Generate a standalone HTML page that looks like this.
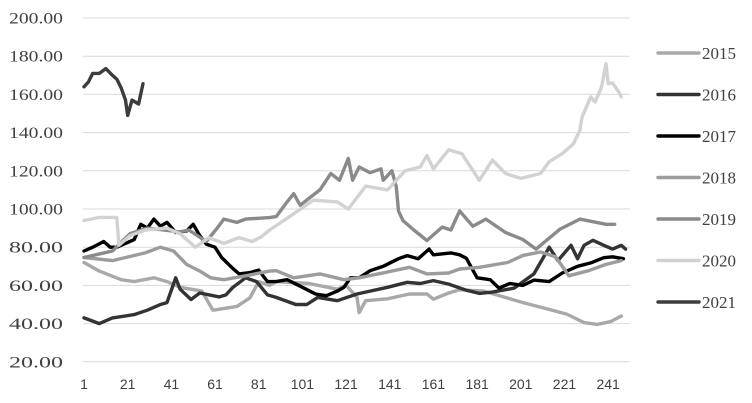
<!DOCTYPE html>
<html><head><meta charset="utf-8"><style>
html,body{margin:0;padding:0;background:#fff;}
svg{display:block;}
.yl{font-family:"Liberation Serif",serif;font-size:16px;fill:#404040;}
.xl{font-family:"Liberation Sans",sans-serif;font-size:14px;fill:#404040;}
.lg{font-family:"Liberation Serif",serif;font-size:17px;fill:#404040;}
</style></head><body>
<svg id="chart" width="752" height="403" viewBox="0 0 752 403" xmlns="http://www.w3.org/2000/svg">
<g id="grid"></g>
<g id="yaxis"></g>
<g id="xaxis"></g>
<g id="series"></g>
<g id="legend"></g>
</svg>
<script>
const yTicks = [200,180,160,140,120,100,80,60,40,20];
const xTicks = [1,21,41,61,81,101,121,141,161,181,201,221,241];
const seriesNames = ["2015","2016","2017","2018","2019","2020","2021"];
const seriesColors = ["#a9a9a9","#333333","#000000","#9c9c9c","#8a8a8a","#d2d2d2","#3c3c3c"];

const d2015 = [1,8,18,24,33,39,45,55,60,71,77,81,86,89,104,117,121,126,127,130,140,150,158,161,168,173,184,202,213,222,230,236,242,247];
const v2015 = [72,67.5,63,62,64,62,59,57,47,49,53.5,62,60,62,61,58,60,53.7,45.8,52,53,55.5,55.5,52.8,56,57.7,57,51,47.7,45,40.5,39.6,41,44];
const d2016 = [1,8,14,24,30,36,39,43,45,50,54,63,66,69,75,80,85,89,98,103,108,117,126,132,140,149,155,161,168,176,182,188,198,207,210,214,218,221,224,227,230,234,239,243,247,249];
const v2016 = [43,40,43,44.7,47,50,51,64,58,52.6,56,54,55,58.8,64,62,55,53.7,50,50,53.7,52,55.5,57,59,61.6,61,62.5,60.7,57.5,55.8,56.5,58.6,66,72,80,73,77,81,74,81,83.6,81,79,81,79];
const d2017 = [1,5,10,13,16,24,27,30,33,36,39,43,48,51,54,57,61,64,69,72,77,81,85,89,94,101,107,112,117,120,123,127,132,138,145,149,154,159,161,169,173,176,181,187,191,196,202,207,214,220,227,233,239,243,248];
const v2017 = [78,80,83,80,80,84,92,90,94.7,91,93,87.7,88.5,92,86,81.6,80,74.6,69,66,66.7,68,62,62,63,59,55.5,54.6,57,59,64,64,67.7,70,74,75.6,74,79,76,77,76,74.3,64,63,58.6,61,60,62.8,62,66.5,70,71.8,74.5,75,74];
const d2018 = [1,14,29,36,42,48,54,59,65,75,86,89,97,109,120,127,140,150,158,168,173,182,195,202,210,217,223,232,240,247];
const v2018 = [74.6,73,77,80,78,71,67.5,64,63,65,67.5,67.7,64,66,63,64,67,69.5,66,66.5,68.6,69.5,72,75.7,77.5,75,65,67.7,71,73];
const d2019 = [1,14,22,30,45,49,57,62,65,71,75,86,89,94,97,100,109,114,118,122,124,127,132,137,138,142,144,145,147,152,158,165,169,173,179,185,194,202,208,219,228,240,244];
const v2019 = [74.6,78,87,90,88,89,83,90,94.7,93,94.7,95.5,96,103.7,108,102,110,118.6,115,126.5,115,122,119,121,115,120,111.6,99,94,89,83.5,90.5,89,99,91,94.7,87.7,84,79,89.5,94.7,92,92];
const d2020 = [1,8,16,17,22,29,39,45,52,58,65,72,78,82,86,97,106,117,122,130,140,148,155,158,161,168,174,182,188,194,201,210,214,220,225,228,229,233,235,238,240,241,243,246,247];
const v2020 = [94,95.6,95.6,81,86,89,90,87,80,85,82,85,83,85.3,89,97.5,104.6,103.7,100,112,110,120,122,128,121,131,129,115,125.6,118.6,116,118.6,124.7,129,134,141,148,158.7,156,164,176,165.6,166,161,158.7];
const d2021 = [1,3,5,8,11,14,16,18,20,21,23,26,28];
const v2021 = [164,166.5,171,171,173.5,170,168,163.5,157,149,157,155,165.6];

const seriesDays = [d2015,d2016,d2017,d2018,d2019,d2020,d2021];
const seriesVals = [v2015,v2016,v2017,v2018,v2019,v2020,v2021];

const NS = "http://www.w3.org/2000/svg";
function xPos(d){ return 84 + (d - 1) * 2.184; }
function yPos(v){ return 18 + (200 - v) * 1.91; }
function mk(tag, attrs, parent){
  const e = document.createElementNS(NS, tag);
  for (const k in attrs) e.setAttribute(k, attrs[k]);
  parent.appendChild(e);
  return e;
}
const grid = document.getElementById('grid');
const yaxis = document.getElementById('yaxis');
const xaxis = document.getElementById('xaxis');
const series = document.getElementById('series');
const legend = document.getElementById('legend');

yTicks.forEach(function(t){
  const g = mk('line', {x1:83, x2:630, y1:yPos(t), y2:yPos(t), stroke:'#d9d9d9', 'stroke-width':1}, grid);
  
  
  const l = mk('text', {x:63, y:yPos(t)+5.5, 'text-anchor':'end', 'class':'yl', textLength:54, lengthAdjust:'spacingAndGlyphs'}, yaxis);
  l.textContent = t.toFixed(2);
  
  
});
xTicks.forEach(function(t){
  const l = mk('text', {x:xPos(t), y:389, 'text-anchor':'middle', 'class':'xl'}, xaxis);
  l.textContent = String(t);
  
  
});
seriesNames.forEach(function(name, i){
  const ds = seriesDays[i], vs = seriesVals[i];
  let pts = [];
  for (let j = 0; j < ds.length; j++) pts.push(xPos(ds[j]).toFixed(1) + ',' + yPos(vs[j]).toFixed(1));
  const p = mk('polyline', {points:pts.join(' '), fill:'none', stroke:seriesColors[i], 'stroke-width':3.4, 'stroke-linejoin':'round', 'stroke-linecap':'round'}, series);
  
  
  const ly = 53 + i * 41.5;
  const ll = mk('line', {x1:658, x2:699, y1:ly, y2:ly, stroke:seriesColors[i], 'stroke-width':3.4, 'stroke-linecap':'round'}, legend);
  
  
  const lt = mk('text', {x:702, y:ly+6, 'class':'lg'}, legend);
  lt.textContent = name;
  
  
});
</script>
</body></html>
